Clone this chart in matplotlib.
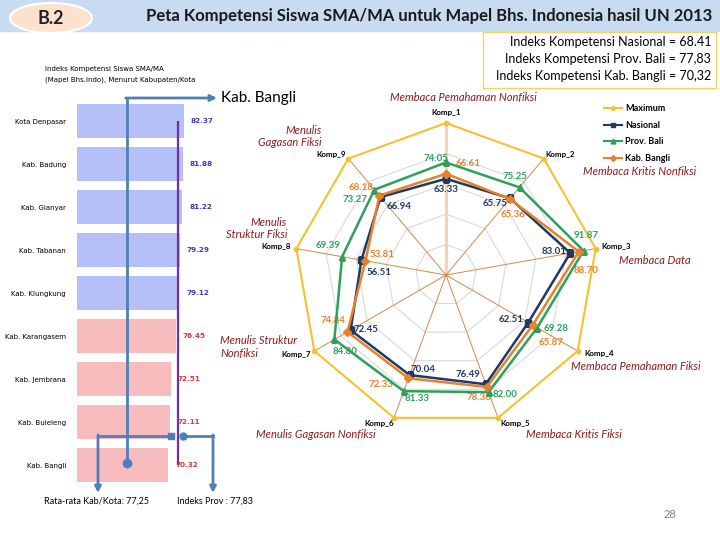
import numpy as np
import matplotlib.pyplot as plt
from matplotlib.lines import Line2D
from matplotlib.patches import Ellipse, Rectangle

plt.rcParams['font.family'] = ['Lato', 'DejaVu Sans']

# --- left panel: index per kabupaten / kota
regions = ['Kota Denpasar', 'Kab. Badung', 'Kab. Gianyar', 'Kab. Tabanan', 'Kab. Klungkung',
           'Kab. Karangasem', 'Kab. Jembrana', 'Kab. Buleleng', 'Kab. Bangli']
region_index = [82.37, 81.88, 81.22, 79.29, 79.12, 76.45, 72.51, 72.11, 70.32]
nasional_index = 68.41
prov_index = 77.83
bangli_index = 70.32

# --- radar: 9 competences
komp = ['Komp_1', 'Komp_2', 'Komp_3', 'Komp_4', 'Komp_5', 'Komp_6', 'Komp_7', 'Komp_8', 'Komp_9']
maximum = [100, 100, 100, 100, 100, 100, 100, 100, 100]
nasional = [63.33, 65.75, 83.01, 62.51, 76.49, 70.04, 72.45, 56.51, 66.94]
prov_bali = [74.05, 75.25, 91.87, 69.28, 82.00, 81.33, 84.80, 69.39, 73.27]
kab_bangli = [66.61, 65.36, 88.70, 65.87, 78.36, 72.33, 74.84, 53.81, 68.18]

# label offsets (pixels) for the radar data labels
off_nas = [(0, -11), (-15, -5), (-16, 2), (-17, 3), (-18, 10), (13, 6), (15, 1), (18, -12), (18, -9)]
off_prov = [(-10, 4), (-5, 11), (3, 15), (19, -1), (16, -2), (13, -7), (11, -12), (-14, 11), (-19, -10)]
off_kab = [(22, 10), (3, -16), (7, -19), (18, -17), (-8, -11), (-27, -6), (-14, 11), (17, 6), (-18, 8)]
off_komp = [(0, 11), (16, 4), (20, 2), (21, -3), (17, -6), (-15, -6), (-18, -3), (-20, 2), (-17, 4)]

C_MAX = '#f2c230'
C_NAS = '#1f3864'
C_PROV = '#2ea05a'
C_KAB = '#e8822a'
C_CONN = '#4f7fb8'
C_CAT = '#8b1c1c'

fig = plt.figure(figsize=(7.2, 5.4), dpi=100)

# ---------------- bar chart ----------------
axb = fig.add_axes([77 / 720, 53 / 540, 129.4 / 720, 387.5 / 540])
y = np.arange(len(regions))
bar_colors = ['#b4c0f7' if v >= prov_index else '#f9bcbe' for v in region_index]
axb.barh(y, region_index, height=0.79, color=bar_colors)
axb.set_xlim(0, 100)
axb.set_ylim(len(regions) - 0.5, -0.5)
axb.set_yticks(y, regions, fontsize=5, family='DejaVu Sans')
axb.set_xticks([])
axb.tick_params(length=0, pad=8)
for s in axb.spines.values():
    s.set_visible(False)
axb.patch.set_alpha(0)
for i, v in enumerate(region_index):
    axb.annotate(f'{v:.2f}', xy=(v, i), xytext=(7, 0), textcoords='offset pixels',
                 ha='left', va='center', fontsize=5.2, weight='bold', family='DejaVu Sans',
                 color='#3b3bc4' if v >= prov_index else '#d43c3c')
axb.vlines(prov_index, 0, len(regions) - 1, color='#70309f', lw=1.6)

# ---------------- radar chart ----------------
axr = fig.add_axes([294 / 720, 113 / 540, 304 / 720, 304 / 540], projection='polar')
axr.set_theta_offset(np.pi / 2)
axr.set_theta_direction(-1)
theta = np.arange(len(komp)) * 2 * np.pi / len(komp)
closed = np.append(theta, theta[0])

def close(vals):
    return list(vals) + [vals[0]]

for r in (20, 40, 60, 80):
    axr.plot(closed, [r] * len(closed), color='#d9d9d9', lw=0.8, zorder=1)
for i, t in enumerate(theta):
    if i == 0:
        axr.plot([t, t], [0, 100], color='#f3d3b8', lw=2.2, zorder=1)
    else:
        axr.plot([t, t], [0, 100], color='#d08a50', lw=0.7, zorder=1)

axr.plot(closed, close(maximum), color=C_MAX, lw=1.5, marker='o', ms=3, clip_on=False, zorder=3)
axr.plot(closed, close(nasional), color=C_NAS, lw=1.8, marker='s', ms=5, zorder=4)
axr.plot(closed, close(kab_bangli), color=C_KAB, lw=1.8, marker='D', ms=4, zorder=5)
axr.plot(closed, close(prov_bali), color=C_PROV, lw=1.8, marker='^', ms=5, zorder=4)

for vals, offs, col in ((nasional, off_nas, C_NAS), (prov_bali, off_prov, C_PROV),
                        (kab_bangli, off_kab, C_KAB)):
    for t, v, o in zip(theta, vals, offs):
        axr.annotate(f'{v:.2f}', xy=(t, v), xytext=o, textcoords='offset pixels',
                     ha='center', va='center', fontsize=7, weight='bold', color=col)
for t, name, o in zip(theta, komp, off_komp):
    axr.annotate(name, xy=(t, 100), xytext=o, textcoords='offset pixels', ha='center',
                 va='center', fontsize=5.8, weight='bold', color='black', annotation_clip=False)

axr.set_ylim(0, 100)
axr.grid(False)
axr.set_xticks([])
axr.set_yticks([])
axr.spines['polar'].set_visible(False)
axr.patch.set_alpha(0)

handles = [Line2D([], [], color=C_MAX, lw=1.5, marker='o', ms=2.5),
           Line2D([], [], color=C_NAS, lw=1.5, marker='s', ms=3.5),
           Line2D([], [], color=C_PROV, lw=1.5, marker='^', ms=3.5),
           Line2D([], [], color=C_KAB, lw=1.5, marker='D', ms=3)]
fig.legend(handles, ['Maximum', 'Nasional', 'Prov. Bali', 'Kab. Bangli'], loc='upper left',
           bbox_to_anchor=(596 / 720, 1 - 96 / 540), frameon=False,
           prop={'size': 6.5, 'weight': 'bold'}, labelspacing=0.85, handlelength=2,
           handletextpad=0.3)

# ---------------- slide decorations ----------------
ov = fig.add_axes([0, 0, 1, 1], zorder=10)
ov.set_xlim(0, 720)
ov.set_ylim(540, 0)
ov.axis('off')

ov.add_patch(Rectangle((0, 0), 720, 31, color='#c8dbf0', zorder=0))
ov.add_patch(Ellipse((51, 18), 82, 30, fc='#fbe2cf', ec='white', lw=1.5, zorder=1))
ov.text(51, 18, 'B.2', ha='center', va='center', fontsize=13, weight='bold', color='#222222')
ov.text(712, 16, 'Peta Kompetensi Siswa SMA/MA untuk Mapel Bhs. Indonesia hasil UN 2013',
        ha='right', va='center', fontsize=12, weight='bold', color='#1a1a1a')

ov.add_patch(Rectangle((483, 32), 233, 56, fc='white', ec='#f2d36b', lw=1))
box_kw = dict(ha='right', va='center', fontsize=9)
ov.text(711, 42, f'Indeks Kompetensi Nasional = {nasional_index:.2f}', **box_kw)
ov.text(711, 59, 'Indeks Kompetensi Prov. Bali = ' + f'{prov_index:.2f}'.replace('.', ','), **box_kw)
ov.text(711, 76, 'Indeks Kompetensi Kab. Bangli = ' + f'{bangli_index:.2f}'.replace('.', ','), **box_kw)

ov.text(45, 69, 'Indeks Kompetensi Siswa SMA/MA', fontsize=5, family='DejaVu Sans', va='center')
ov.text(45, 80, '(Mapel Bhs.Indo), Menurut Kabupaten/Kota', fontsize=5, family='DejaVu Sans', va='center')

# connectors on the bar chart
arrow = dict(arrowstyle='-|>', color=C_CONN, lw=2, mutation_scale=9, shrinkA=0, shrinkB=0)
ov.plot([126.7, 126.7], [463, 98], color=C_CONN, lw=2)
ov.annotate('', xy=(217, 98), xytext=(125.7, 98), arrowprops=arrow)
ov.plot(126.7, 463, 'o', color=C_CONN, ms=6)
ov.text(221, 98, 'Kab. Bangli', fontsize=11, va='center')

ov.plot([171, 98], [436, 436], color=C_CONN, lw=2)
ov.annotate('', xy=(98, 493), xytext=(98, 435), arrowprops=arrow)
ov.plot(171, 436, 's', color=C_CONN, ms=5)
ov.plot([183, 213], [436, 436], color=C_CONN, lw=2)
ov.annotate('', xy=(213, 493), xytext=(213, 435), arrowprops=arrow)
ov.plot(183, 436, 'o', color=C_CONN, ms=5)
avg_index = sum(region_index) / len(region_index)
ov.text(97, 501, 'Rata-rata Kab/Kota: ' + f'{avg_index:.2f}'.replace('.', ','), ha='center',
        va='center', fontsize=6.5)
ov.text(215, 501, 'Indeks Prov : ' + f'{prov_index:.2f}'.replace('.', ','), ha='center',
        va='center', fontsize=6.5)

# competence names around the radar
cat_kw = dict(color=C_CAT, style='italic', fontsize=8, va='center')
ov.text(463, 97, 'Membaca Pemahaman Nonfiksi', ha='center', **cat_kw)
ov.text(322, 130, 'Menulis', ha='right', **cat_kw)
ov.text(322, 143, 'Gagasan Fiksi', ha='right', **cat_kw)
ov.text(583, 172, 'Membaca Kritis Nonfiksi', ha='left', **cat_kw)
ov.text(287, 222, 'Menulis', ha='right', **cat_kw)
ov.text(287, 235, 'Struktur Fiksi', ha='right', **cat_kw)
ov.text(619, 260, 'Membaca Data', ha='left', **cat_kw)
ov.text(220, 340, 'Menulis Struktur', ha='left', **cat_kw)
ov.text(220, 353, 'Nonfiksi', ha='left', **cat_kw)
ov.text(571, 366, 'Membaca Pemahaman Fiksi', ha='left', **cat_kw)
ov.text(256, 435, 'Menulis Gagasan Nonfiksi', ha='left', **cat_kw)
ov.text(526, 435, 'Membaca Kritis Fiksi', ha='left', **cat_kw)

ov.text(670, 514, '28', color='#7f7f7f', fontsize=8, ha='center', va='center')

fig.savefig('out.png', dpi=100)
